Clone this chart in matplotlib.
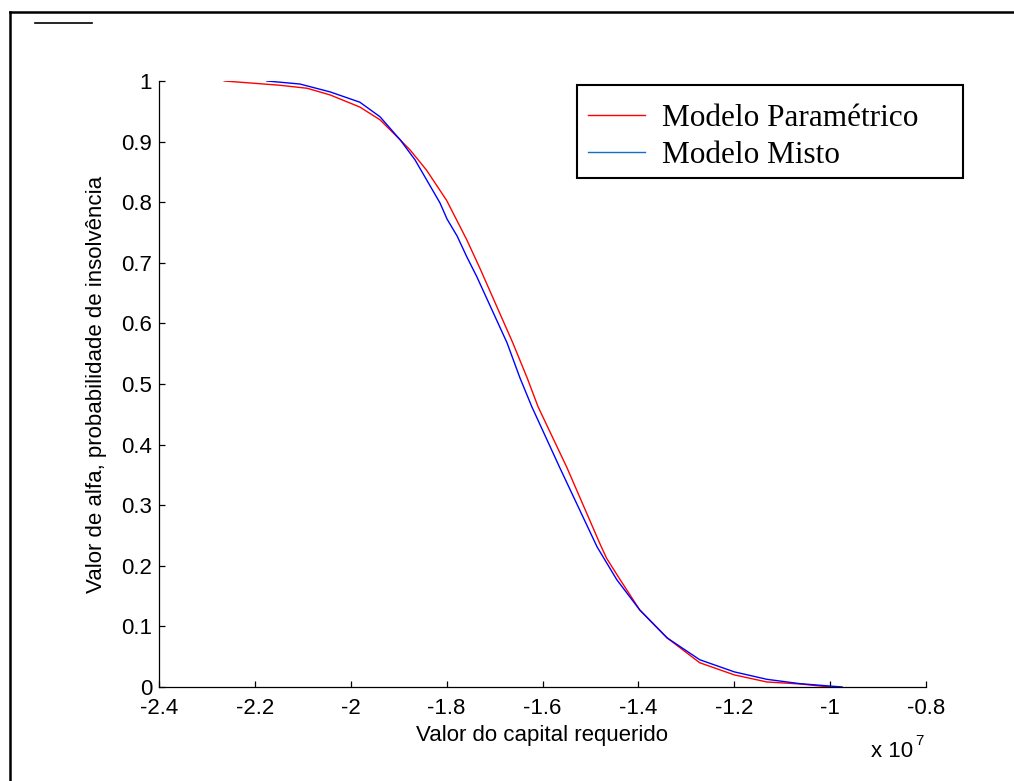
import matplotlib
matplotlib.use("Agg")
import matplotlib.pyplot as plt
from matplotlib.lines import Line2D
from matplotlib.patches import Rectangle
from matplotlib.ticker import FuncFormatter

# capital values in units of 1e7, alpha
PARAM_X = [-2.264, -2.148, -2.091, -2.043, -1.981, -1.939, -1.897, -1.876,
           -1.842, -1.800, -1.758, -1.730, -1.662, -1.632, -1.609, -1.549,
           -1.480, -1.466, -1.438, -1.397, -1.340, -1.272, -1.200, -1.132,
           -1.063, -1.000]
PARAM_Y = [1.000, 0.993, 0.988, 0.977, 0.957, 0.936, 0.903, 0.886,
           0.853, 0.803, 0.738, 0.690, 0.568, 0.510, 0.462, 0.362,
           0.236, 0.212, 0.177, 0.127, 0.081, 0.040, 0.020, 0.0083,
           0.005, 0.000]

MISTO_X = [-2.175, -2.106, -2.043, -1.981, -1.939, -1.897, -1.866,
           -1.814, -1.799, -1.778, -1.758, -1.737, -1.674, -1.647, -1.622,
           -1.564, -1.486, -1.445, -1.397, -1.340, -1.272, -1.200, -1.132,
           -1.063, -0.975]
MISTO_Y = [1.000, 0.995, 0.982, 0.965, 0.941, 0.903, 0.870,
           0.799, 0.772, 0.744, 0.710, 0.677, 0.568, 0.510, 0.462,
           0.362, 0.231, 0.177, 0.127, 0.081, 0.045, 0.025, 0.0127,
           0.0055, 0.000]

X_TICKS = [-2.4, -2.2, -2.0, -1.8, -1.6, -1.4, -1.2, -1.0, -0.8]
Y_TICKS = [0.0, 0.1, 0.2, 0.3, 0.4, 0.5, 0.6, 0.7, 0.8, 0.9, 1.0]
LABELS = ("Modelo Paramétrico", "Modelo Misto")

plt.rcParams["font.family"] = ["Liberation Sans", "DejaVu Sans"]

W, H = 1014, 781
fig = plt.figure(figsize=(W / 100, H / 100), dpi=100)
ax = fig.add_axes([159 / W, 1 - 687 / H, 767 / W, 606 / H])

ax.plot(PARAM_X, PARAM_Y, color="#ff0000", lw=1.0, label=LABELS[0])
ax.plot(MISTO_X, MISTO_Y, color="#0000ff", lw=1.0, label=LABELS[1])

ax.set_xlim(-2.4, -0.8)
ax.set_ylim(0, 1)
ax.set_xticks(X_TICKS)
ax.set_yticks(Y_TICKS)
fmt = FuncFormatter(lambda v, _: f"{v:g}")
ax.xaxis.set_major_formatter(fmt)
ax.yaxis.set_major_formatter(fmt)
ax.spines["top"].set_visible(False)
ax.spines["right"].set_visible(False)
for s in ("left", "bottom"):
    ax.spines[s].set_linewidth(0.9)
ax.tick_params(direction="in", length=4.5, width=0.9, labelsize=16)
ax.tick_params(axis="x", pad=8)
ax.tick_params(axis="y", pad=5)

ax.set_xlabel("Valor do capital requerido", fontsize=16, labelpad=4)
ax.set_ylabel("Valor de alfa, probabilidade de insolvência", fontsize=16,
              labelpad=10)

# MATLAB-style exponent under the axis end
fig.text(913 / W, 1 - 757 / H, "x 10", fontsize=16, ha="right",
         va="baseline")
fig.text(915 / W, 1 - 745 / H, "7", fontsize=11, ha="left",
         va="baseline")

# legend box drawn by hand (MATLAB leaves extra room on the right)
ax.add_patch(Rectangle((577 / W, 1 - 178 / H), 386 / W, 93 / H,
                       transform=fig.transFigure, facecolor="white",
                       edgecolor="black", lw=1.5, zorder=4, clip_on=False))
leg = ax.legend(loc="upper left", bbox_to_anchor=(579 / W, 1 - 95 / H),
                bbox_transform=fig.transFigure,
                prop={"family": "Liberation Serif", "size": 22.5},
                frameon=False, borderaxespad=0, borderpad=0.3,
                handlelength=1.8, handletextpad=0.55, labelspacing=0.25)
leg.set_zorder(6)
leg.get_lines()[1].set_color("#1070c8")

# outer frame and short mark at the top-left
fig.add_artist(Line2D([10 / W, 10 / W], [0, 1 - 12 / H],
                      color="black", lw=1.8, transform=fig.transFigure))
fig.add_artist(Line2D([10 / W, 1], [1 - 12 / H, 1 - 12 / H],
                      color="black", lw=1.8, transform=fig.transFigure))
fig.add_artist(Line2D([35 / W, 92 / W], [1 - 23 / H, 1 - 23 / H],
                      color="black", lw=1.2, transform=fig.transFigure))

fig.savefig("out.png", dpi=100)
